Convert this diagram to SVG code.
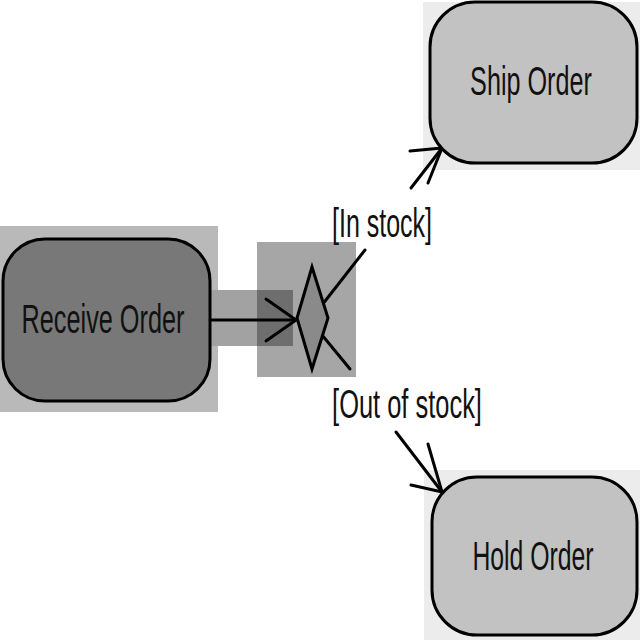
<svg xmlns="http://www.w3.org/2000/svg" width="640" height="640" viewBox="0 0 640 640">
<style>
.node{stroke:#000;stroke-width:3}
.lbl{font-family:"Liberation Sans",Arial,sans-serif;font-size:40px;fill:#111;text-anchor:middle}
.edge{stroke:#000;stroke-width:3;fill:none;stroke-linecap:round}
</style>
<rect width="640" height="640" fill="#fff"/>
<g id="highlights">
<rect x="0" y="226" width="218" height="186" fill="#b9b9b9"/>
<rect x="257" y="242" width="99" height="135" fill="#a6a6a6"/>
<rect x="210" y="290" width="47" height="56" fill="#a2a2a2"/>
<rect x="257" y="290" width="36" height="56" fill="#6e6e6e"/>
<rect x="423" y="2" width="217" height="168" fill="#ececec"/>
<rect x="424" y="470" width="216" height="170" fill="#ececec"/>
</g>
<g id="connectors">
<line class="edge" x1="210" y1="320" x2="296" y2="320"/>
<polyline class="edge" points="266,299 296,320 266,341"/>
<line class="edge" x1="322" y1="305" x2="365" y2="250"/>
<line class="edge" x1="411" y1="188" x2="442" y2="148"/>
<polyline class="edge" points="410,151 442,148 428,183"/>
<line class="edge" x1="322" y1="335" x2="350" y2="369"/>
<line class="edge" x1="396" y1="432" x2="442" y2="492"/>
<polyline class="edge" points="428,444 442,492 411,485"/>
<text class="lbl" transform="translate(382,237) scale(0.625,1)">[In stock]</text>
<text class="lbl" transform="translate(407,418) scale(0.636,1)">[Out of stock]</text>
</g>
<g id="receive-order">
<rect class="node" x="3" y="239" width="207" height="162" rx="42" ry="42" fill="#787878"/>
<text class="lbl" transform="translate(103,333) scale(0.632,1)">Receive Order</text>
</g>
<g id="decision">
<polygon class="node" points="312,267 328,318 312,369 297,318" fill="#8a8a8a" stroke-width="2.5"/>
</g>
<g id="ship-order">
<rect class="node" x="430" y="2" width="207" height="161" rx="45" ry="45" fill="#c2c2c2"/>
<text class="lbl" transform="translate(531,95) scale(0.63,1)">Ship Order</text>
</g>
<g id="hold-order">
<rect class="node" x="432" y="477" width="205" height="158" rx="45" ry="45" fill="#c2c2c2"/>
<text class="lbl" transform="translate(533,570) scale(0.62,1)">Hold Order</text>
</g>
</svg>
